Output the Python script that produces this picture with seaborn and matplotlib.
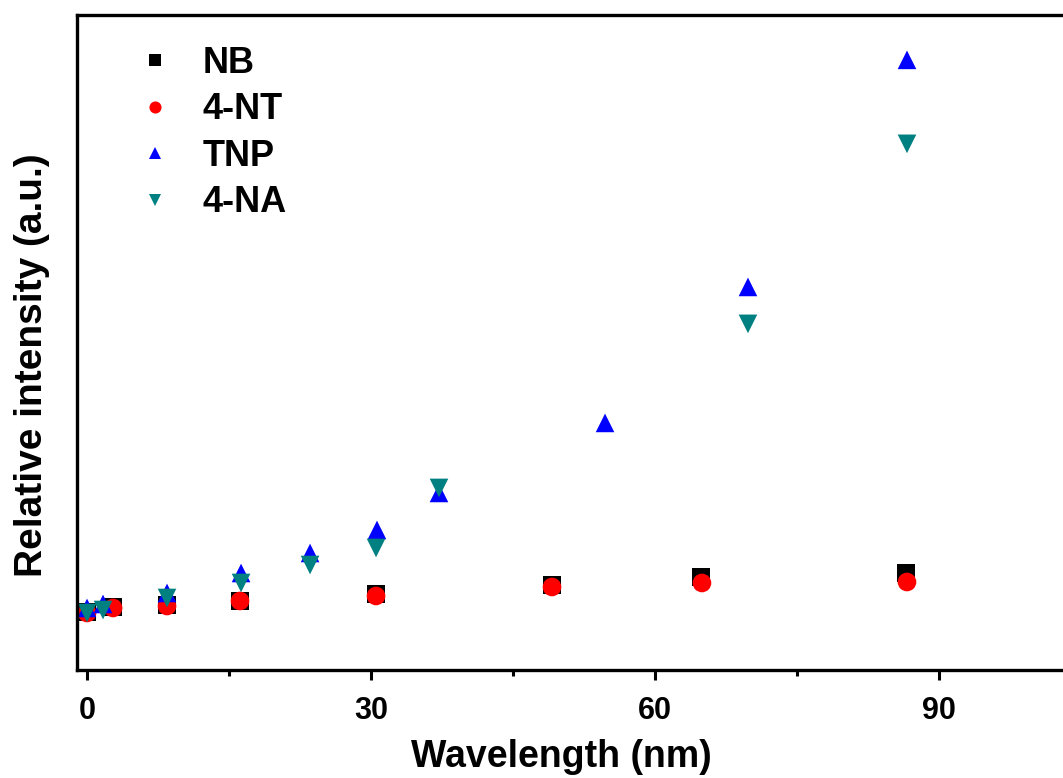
import matplotlib
matplotlib.use("Agg")
import matplotlib.pyplot as plt
from matplotlib.ticker import MultipleLocator, NullLocator
import seaborn as sns
import pandas as pd

# ---- data ----
nb_x   = [0.0, 2.75, 8.45, 16.16, 30.53, 49.12, 64.86, 86.51]
nb_y   = [1.00, 1.086, 1.121, 1.190, 1.310, 1.466, 1.603, 1.672]
nt_x   = [0.0, 2.75, 8.45, 16.16, 30.53, 49.12, 64.96, 86.62]
nt_y   = [0.983, 1.069, 1.103, 1.190, 1.276, 1.431, 1.500, 1.517]
tnp_x  = [0.0, 1.69, 8.45, 16.27, 23.56, 30.63, 37.18, 54.72, 69.82, 86.62]
tnp_y  = [1.069, 1.138, 1.328, 1.672, 2.017, 2.414, 3.052, 4.259, 6.603, 10.517]
na_x   = [0.0, 1.69, 8.45, 16.27, 23.56, 30.53, 37.18, 69.82, 86.62]
na_y   = [0.983, 1.034, 1.241, 1.500, 1.810, 2.103, 3.138, 5.966, 9.069]

series_names = ["NB", "4-NT", "TNP", "4-NA"]
colors  = {"NB": "#000000", "4-NT": "#FF0000", "TNP": "#0000FF", "4-NA": "#008080"}
markers = {"NB": "s", "4-NT": "o", "TNP": "^", "4-NA": "v"}
x_ticks = [0, 30, 60, 90]

frames = []
for name, xs, ys in zip(series_names, [nb_x, nt_x, tnp_x, na_x], [nb_y, nt_y, tnp_y, na_y]):
    frames.append(pd.DataFrame({"x": xs, "y": ys, "Sample": name}))
df = pd.concat(frames, ignore_index=True)

sns.set_style("ticks")
plt.rcParams["font.family"] = ["Liberation Sans", "DejaVu Sans"]
plt.rcParams["font.weight"] = "bold"
plt.rcParams["axes.labelweight"] = "bold"
plt.rcParams["text.color"] = "black"
plt.rcParams["axes.labelcolor"] = "black"
plt.rcParams["xtick.color"] = "black"
plt.rcParams["xtick.labelcolor"] = "black"

W, H = 1063, 778
fig = plt.figure(figsize=(W / 100, H / 100), dpi=100)
ax = fig.add_axes([77 / W, (H - 670) / H, (W - 77) / W, (670 - 15) / H])

sns.scatterplot(data=df, x="x", y="y", hue="Sample", style="Sample",
                palette=colors, markers=markers, hue_order=series_names,
                style_order=series_names, s=180, linewidth=0, ax=ax)

ax.set_xlim(-1.06, 103.1)
ax.set_ylim(0, 11.29)
ax.set_xticks(x_ticks)
ax.xaxis.set_minor_locator(MultipleLocator(15))
ax.yaxis.set_major_locator(NullLocator())
ax.yaxis.set_minor_locator(NullLocator())
ax.tick_params(axis="x", which="major", direction="out", length=7, width=2.2,
               labelsize=22, pad=12, color="black", labelcolor="black")
ax.tick_params(axis="x", which="minor", direction="out", length=4, width=2.2, color="black")
for lab in ax.get_xticklabels():
    lab.set_fontweight("bold")

for side in ["left", "bottom", "top"]:
    ax.spines[side].set_linewidth(2.4)
    ax.spines[side].set_color("black")
ax.spines["right"].set_visible(False)

ax.set_xlabel("Wavelength (nm)", fontsize=27, fontweight="bold", color="black")
ax.set_ylabel("Relative intensity (a.u.)", fontsize=28, fontweight="bold", color="black")
ax.xaxis.set_label_coords(0.491, -0.105)
ax.yaxis.set_label_coords(-0.027, 0.4656)

sns.move_legend(ax, "upper left", bbox_to_anchor=(0.061, 0.953), frameon=False,
                title=None, fontsize=26, markerscale=0.65, handletextpad=0.8,
                handlelength=1.0, labelspacing=0.32, borderpad=0, borderaxespad=0)
for t in ax.get_legend().get_texts():
    t.set_fontweight("bold")
    t.set_color("black")

fig.savefig("out.png", dpi=100)
